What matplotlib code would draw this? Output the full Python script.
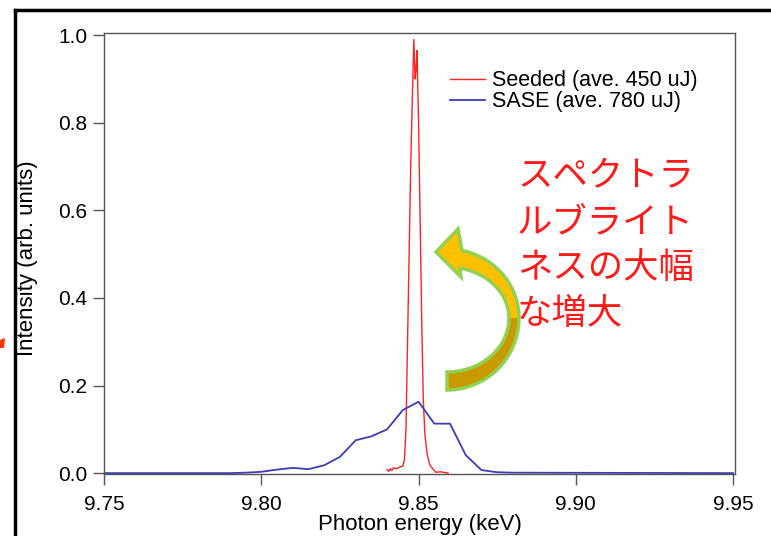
import numpy as np
import matplotlib
matplotlib.use('Agg')
from matplotlib import pyplot as plt
from matplotlib.patches import Polygon
from matplotlib.lines import Line2D

plt.rcParams['font.family'] = ['Liberation Sans', 'DejaVu Sans']

# seeded spectrum (red)
seed_e = [9.8400, 9.8405, 9.8410, 9.8415, 9.8420, 9.8430, 9.8440, 9.8450, 9.8455,
          9.8460, 9.8465, 9.8470, 9.8475, 9.8480, 9.8485, 9.8489, 9.8492, 9.8495,
          9.8500, 9.8505, 9.8510, 9.8515, 9.8520, 9.8527, 9.8535, 9.8545, 9.8555,
          9.8570, 9.8594]
seed_i = [0.008, 0.004, 0.010, 0.006, 0.012, 0.010, 0.014, 0.016, 0.030,
          0.10, 0.30, 0.50, 0.70, 0.85, 0.99, 0.90, 0.92, 0.965,
          0.80, 0.58, 0.35, 0.17, 0.09, 0.045, 0.020, 0.010, 0.002,
          0.003, 0.0]

# SASE spectrum (blue)
sase_e = [9.750, 9.790, 9.795, 9.800, 9.805, 9.810, 9.815, 9.820, 9.825, 9.830,
          9.835, 9.840, 9.845, 9.850, 9.855, 9.860, 9.865, 9.870, 9.875, 9.880,
          9.950]
sase_i = [0.0, 0.0, 0.001, 0.003, 0.008, 0.012, 0.009, 0.018, 0.037, 0.075,
          0.084, 0.100, 0.144, 0.163, 0.113, 0.113, 0.041, 0.007, 0.002, 0.001,
          0.0]

labels = ['Seeded (ave. 450 uJ)', 'SASE (ave. 780 uJ)']
note = 'スペクトラ\nルブライト\nネスの大幅\nな増大'

W, H = 771, 536
fig = plt.figure(figsize=(W / 100, H / 100), dpi=100)
ax = fig.add_axes([104 / W, 1 - 474 / H, 631 / W, 441 / H])

ax.plot(seed_e, seed_i, color='#ff2020', lw=1.0, label=labels[0])
ax.plot(sase_e, sase_i, color='#3c3cb4', lw=1.3, label=labels[1])

ax.set_xlim(9.75, 9.9506)
ax.set_ylim(-0.002, 1.005)
ax.set_xticks([9.75, 9.80, 9.85, 9.90, 9.95])
ax.set_xticklabels(['9.75', '9.80', '9.85', '9.90', '9.95'])
ax.set_yticks([0.0, 0.2, 0.4, 0.6, 0.8, 1.0])
ax.set_yticklabels(['0.0', '0.2', '0.4', '0.6', '0.8', '1.0'])
ax.tick_params(direction='out', length=8, width=1, color='#555555',
               labelsize=15)
ax.tick_params(axis='x', pad=7)
ax.tick_params(axis='y', pad=4)
for s in ax.spines.values():
    s.set_color('#555555')
    s.set_linewidth(1.0)

ax.set_xlabel('Photon energy (keV)', fontsize=16, labelpad=0)
ax.set_ylabel('Intensity (arb. units)', fontsize=16)
ax.yaxis.set_label_coords(-0.104, 0.49)

ax.legend(loc='upper left', bbox_to_anchor=(0.535, 0.935), frameon=False,
          fontsize=15.5, handlelength=1.6, handletextpad=0.33, labelspacing=0.0,
          borderaxespad=0)

fig.text(517 / W, 1 - 158 / H, note, color='#ff1a1a', fontsize=25.5, va='top',
         ha='left', linespacing=1.36,
         family=['Noto Sans CJK JP', 'DejaVu Sans'])

# curved block arrow (pixel geometry -> figure fraction)
cx, cy = 447, 318
def arc(rx, ry_lo, ry_hi, t0, t1, n=40):
    t = np.radians(np.linspace(t0, t1, n))
    ry = np.where(t < 0, ry_lo, ry_hi)
    return list(zip(cx + rx * np.cos(t), cy - ry * np.sin(t)))

def to_fig(pts):
    return [(x / W, 1 - y / H) for x, y in pts]

head = [(458, 229), (436, 252), (461, 277)]
dark = arc(72, 72, 69, -90, 0) + arc(62, 54, 51, 0, -90)
gold = arc(72, 72, 69, 0, 78) + head + arc(62, 54, 51, 78, 0)
outline = arc(72, 72, 69, -90, 78) + head + arc(62, 54, 51, 78, -90)
fig.patches.append(Polygon(to_fig(dark), closed=True, transform=fig.transFigure,
                           facecolor='#c89a00', edgecolor='none', zorder=5))
fig.patches.append(Polygon(to_fig(gold), closed=True, transform=fig.transFigure,
                           facecolor='#ffc000', edgecolor='none', zorder=5))
fig.patches.append(Polygon(to_fig(outline), closed=True, transform=fig.transFigure,
                           facecolor='none', edgecolor='#92d050', lw=2.5, zorder=6))

# outer frame and the small mark at the left edge
fig.lines.append(Line2D([15 / W, 15 / W], [0, 1 - 10 / H], transform=fig.transFigure,
                        color='black', lw=2.5))
fig.lines.append(Line2D([15 / W, 1], [1 - 10 / H, 1 - 10 / H], transform=fig.transFigure,
                        color='black', lw=2.5))
fig.patches.append(Polygon(to_fig([(0, 340), (5, 338), (4, 348), (0, 348)]), closed=True,
                           transform=fig.transFigure, facecolor='#ff3300',
                           edgecolor='none'))

fig.savefig('out.png', dpi=100)
